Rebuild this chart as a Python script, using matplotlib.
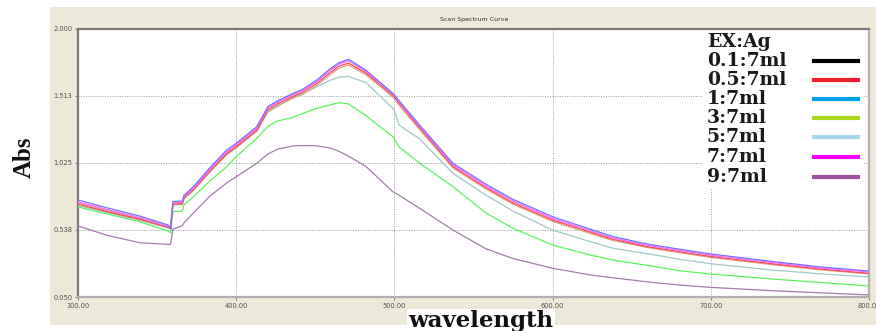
import matplotlib.pyplot as plt
from matplotlib.patches import Rectangle

# wavelength grid (nm)
wl = [300, 318, 339, 357, 358.5, 360, 366, 367, 373, 383, 394, 400, 413, 420, 426, 436, 442,
      451, 459, 465, 471, 482, 499, 500, 503, 516, 537, 558, 575, 600, 624, 638, 660, 680,
      700, 740, 770, 800]

blue = [0.756, 0.700, 0.639, 0.574, 0.550, 0.745, 0.748, 0.790, 0.853, 0.986, 1.120, 1.168,
        1.289, 1.435, 1.476, 1.532, 1.561, 1.629, 1.707, 1.755, 1.780, 1.700, 1.532, 1.520,
        1.478, 1.300, 1.023, 0.870, 0.760, 0.634, 0.543, 0.490, 0.435, 0.398, 0.363, 0.307,
        0.268, 0.239]
magenta = [0.742, 0.688, 0.628, 0.565, 0.548, 0.735, 0.738, 0.780, 0.842, 0.975, 1.108, 1.157,
           1.278, 1.425, 1.466, 1.522, 1.552, 1.618, 1.695, 1.745, 1.770, 1.692, 1.528, 1.515,
           1.470, 1.290, 1.012, 0.858, 0.748, 0.622, 0.532, 0.480, 0.425, 0.389, 0.354, 0.299,
           0.260, 0.231]
red = [0.725, 0.672, 0.615, 0.558, 0.546, 0.728, 0.730, 0.772, 0.832, 0.962, 1.095, 1.145,
       1.265, 1.412, 1.455, 1.510, 1.540, 1.605, 1.680, 1.730, 1.752, 1.680, 1.518, 1.505,
       1.460, 1.280, 1.000, 0.845, 0.735, 0.610, 0.522, 0.470, 0.416, 0.380, 0.345, 0.290,
       0.252, 0.223]
brown = [0.735, 0.680, 0.620, 0.560, 0.547, 0.722, 0.725, 0.765, 0.825, 0.955, 1.085, 1.135,
         1.255, 1.400, 1.442, 1.497, 1.525, 1.590, 1.665, 1.715, 1.738, 1.668, 1.505, 1.492,
         1.445, 1.268, 0.990, 0.835, 0.725, 0.600, 0.512, 0.462, 0.410, 0.373, 0.338, 0.284,
         0.247, 0.218]
cyan = [0.715, 0.665, 0.608, 0.552, 0.545, 0.720, 0.722, 0.765, 0.828, 0.958, 1.088, 1.138,
        1.258, 1.395, 1.435, 1.505, 1.530, 1.580, 1.625, 1.650, 1.655, 1.610, 1.423, 1.405,
        1.300, 1.200, 0.950, 0.790, 0.675, 0.537, 0.452, 0.405, 0.365, 0.325, 0.292, 0.245,
        0.218, 0.196]
green = [0.705, 0.655, 0.598, 0.530, 0.516, 0.671, 0.675, 0.720, 0.780, 0.890, 0.998, 1.071,
         1.205, 1.290, 1.330, 1.357, 1.385, 1.423, 1.447, 1.464, 1.455, 1.370, 1.216, 1.200,
         1.140, 1.023, 0.853, 0.660, 0.550, 0.428, 0.355, 0.319, 0.280, 0.241, 0.217, 0.180,
         0.155, 0.130]
purple = [0.567, 0.500, 0.445, 0.433, 0.433, 0.543, 0.570, 0.590, 0.661, 0.780, 0.880, 0.925,
          1.023, 1.090, 1.125, 1.149, 1.152, 1.150, 1.135, 1.110, 1.075, 1.000, 0.816, 0.810,
          0.790, 0.695, 0.537, 0.400, 0.330, 0.259, 0.210, 0.190, 0.160, 0.137, 0.120, 0.095,
          0.080, 0.065]

curves = [purple, green, cyan, brown, red, magenta, blue]
curve_colors = ['#a47cab', '#5cf25c', '#9dc9c9', '#d2a282', '#ff4848', '#ff66ff', '#7272ff']

legend_title = 'EX:Ag'
legend_labels = ['0.1:7ml', '0.5:7ml', '1:7ml', '3:7ml', '5:7ml', '7:7ml', '9:7ml']
legend_colors = ['#000000', '#ee2030', '#00a0e8', '#a8d820', '#a0d8ea', '#ff00ff', '#a050a0']

y_ticks = [0.050, 0.538, 1.025, 1.513, 2.000]
x_ticks = [300, 400, 500, 600, 700, 800]

W, H = 876, 331
fig = plt.figure(figsize=(W / 100, H / 100), dpi=100)
fig.patch.set_facecolor('white')

# beige window frame, kept behind the axes
fig.patches.append(Rectangle((50 / W, 6 / H), 1 - 50 / W, 318 / H, transform=fig.transFigure,
                             facecolor='#ece9d8', edgecolor='none', zorder=-10))
fig.text(474 / W, 1 - 19 / H, 'Scan Spectrum Curve', fontsize=4.5, color='#303030',
         ha='center', va='center')

ax = fig.add_axes([78 / W, 34 / H, 791 / W, 268 / H])
ax.set_zorder(1)
ax.set_facecolor('white')
for c, col in zip(curves, curve_colors):
    ax.plot(wl, c, color=col, lw=0.9, zorder=3)

ax.set_xlim(300, 800)
ax.set_ylim(0.050, 2.000)
ax.set_xticks(x_ticks)
ax.set_yticks(y_ticks)
ax.set_xticklabels([f'{v:.2f}' for v in x_ticks])
ax.set_yticklabels([f'{v:.3f}' for v in y_ticks])
ax.tick_params(labelsize=4.8, labelcolor='#505050', length=2, color='#808080', pad=2)
ax.grid(True, color='#9a9a9a', linestyle=(0, (1, 1.5)), lw=0.7)
for side in ['left', 'top']:
    ax.spines[side].set_color('#7a7a7a')
    ax.spines[side].set_linewidth(1.6)
for side in ['right', 'bottom']:
    ax.spines[side].set_color('#b0b0b0')
    ax.spines[side].set_linewidth(1.6)

# legend block pasted on a white patch
ax.add_patch(Rectangle((0.789, 0.405), 0.205, 0.59, transform=ax.transAxes,
                       facecolor='white', edgecolor='none', zorder=2))
leg_y = [42, 61, 80, 99, 118, 137, 157, 177]
fig.text(707 / W, 1 - leg_y[0] / H, legend_title, fontsize=13.5, fontweight='bold',
         family='DejaVu Serif', va='center', ha='left', color='#1a1a1a', zorder=5)
for i, (lab, col) in enumerate(zip(legend_labels, legend_colors)):
    yy = 1 - leg_y[i + 1] / H
    fig.text(707 / W, yy, lab, fontsize=13.5, fontweight='bold', family='DejaVu Serif',
             va='center', ha='left', color='#1a1a1a', zorder=5)
    fig.add_artist(plt.Line2D([814 / W, 858 / W], [yy, yy], color=col, lw=3,
                              transform=fig.transFigure, zorder=5))

fig.text(24 / W, 1 - 157 / H, 'Abs', rotation=90, fontsize=18, fontweight='bold',
         family='Liberation Serif', va='center', ha='center', color='#111111')
fig.text(481 / W, 1 - 321 / H, 'wavelength', fontsize=16.5, fontweight='bold',
         family='DejaVu Serif', va='center', ha='center', color='#111111', zorder=5,
         bbox=dict(facecolor='white', edgecolor='none', pad=0.8))

fig.savefig('out.png', dpi=100)
